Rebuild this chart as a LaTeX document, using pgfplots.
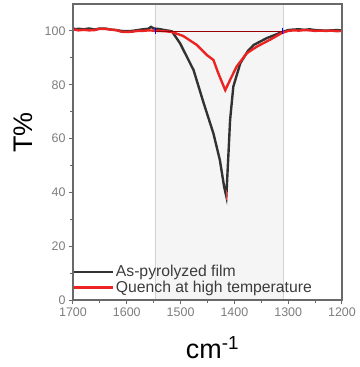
\documentclass[border=0pt]{standalone}
\usepackage{pgfplots}
\pgfplotsset{compat=1.18}
\usepackage{fontspec}
\setmainfont{Liberation Sans}
\definecolor{tickgray}{RGB}{125,125,125}
\definecolor{axgray}{RGB}{105,105,105}
\definecolor{legtext}{RGB}{60,60,60}
\definecolor{myred}{RGB}{235,35,35}
\definecolor{myblack}{RGB}{50,50,50}
\begin{document}
\begin{tikzpicture}
\begin{axis}[
  scale only axis,
  width=269bp, height=296bp,
  xmin=1200, xmax=1700, ymin=0, ymax=110,
  x dir=reverse,
  xtick={1200,1300,...,1700},
  minor xtick={1250,1350,...,1650},
  ytick={0,20,...,100},
  minor ytick={10,30,...,90},
  tick align=outside,
  xtick pos=bottom, ytick pos=left,
  major tick length=4bp, minor tick length=2.5bp,
  axis line style={axgray, line width=1.4pt},
  tick style={axgray, line width=1pt},
  ticklabel style={font=\fontsize{12.5}{14}\selectfont, text=tickgray},
  /pgf/number format/assume math mode=true,
  /pgf/number format/set thousands separator={},
  xlabel={cm\textsuperscript{-1}},
  ylabel={T\%},
  xlabel style={font=\fontsize{27}{30}\selectfont, at={(axis description cs:0.5,-0.196)}, anchor=base, xshift=5bp},
  ylabel style={font=\fontsize{27}{30}\selectfont, at={(axis description cs:-0.186,0.565)}, anchor=center},
  clip=true,
  axis on top,
  legend cell align=left,
  legend style={draw=none, fill=none, at={(0,0.015)}, anchor=south west, inner sep=0pt, outer sep=0pt,
    font=\fontsize{15.8}{18}\selectfont, text=legtext, row sep=0pt, nodes={inner sep=1.5bp}},
  legend image code/.code={\draw[#1] (0bp,0bp) -- (39bp,0bp);},
]
\addplot[fill=gray!8, draw=gray!35, line width=0.6pt, forget plot] coordinates {(1547,0) (1547,110) (1310,110) (1310,0)} -- cycle;
\addplot[myblack, line width=2.4pt] coordinates {
(1700,101.0) (1695,100.6) (1690,100.8) (1680,100.6) (1670,100.9) (1660,100.5) (1650,100.9) (1640,100.9) (1630,100.5) (1620,100.3) (1610,100.0) (1600,99.9) (1590,100.0) (1580,100.3) (1570,100.6) (1560,100.8) (1555,101.5) (1550,100.9) (1540,100.7) (1530,100.3) (1520,100.0) (1516,99.8)
(1501,95.4) (1476,85.5) (1457,73.1) (1439,61.9) (1427,52.0) (1419,42.0) (1415,38.5)
(1411,54.5) (1408,66.9) (1402,79.3) (1389,88.0) (1375,92.5) (1364,94.8) (1340,97.3) (1312,99.5)
(1300,100.3) (1290,100.5) (1280,100.6) (1270,100.4) (1260,100.6) (1250,100.3) (1240,100.2) (1230,100.1) (1220,100.2) (1210,100.3) (1200,100.2)};
\addlegendentry{As-pyrolyzed film}
\addplot[myred, line width=2.4pt] coordinates {
(1700,100.6) (1690,100.2) (1680,100.4) (1670,100.2) (1660,100.3) (1650,100.8) (1640,100.7) (1630,100.5) (1620,100.3) (1610,99.7) (1600,99.6) (1590,99.7) (1580,100.0) (1570,100.0) (1560,100.2) (1550,100.1) (1540,100.0) (1530,99.9) (1516,99.6)
(1495,98.1) (1470,94.8) (1451,91.0) (1439,89.2) (1430,84.3) (1417,78.0)
(1408,81.8) (1396,86.7) (1377,91.7) (1358,94.2) (1334,96.7) (1312,99.2)
(1300,100.0) (1290,100.2) (1280,100.1) (1270,100.3) (1260,100.2) (1250,100.0) (1240,100.1) (1230,100.0) (1220,100.1) (1210,99.9) (1200,100.0)};
\addlegendentry{Quench at high temperature}
\addplot[red!60!black, line width=0.5pt, forget plot] coordinates {(1547,100) (1310,100)};
\addplot[red!80, line width=0.4pt, forget plot] coordinates {(1415,37) (1415,41)};
\addplot[blue, only marks, mark=|, mark size=3pt, mark options={line width=0.8pt}, forget plot] coordinates {(1547,100) (1310,100)};
\end{axis}
\path (current axis.south west) ++(-73bp,-67bp) coordinate (bl);
\path (current axis.north east) ++(11bp,4bp) coordinate (tr);
\useasboundingbox (bl) rectangle (tr);
\end{tikzpicture}
\end{document}
